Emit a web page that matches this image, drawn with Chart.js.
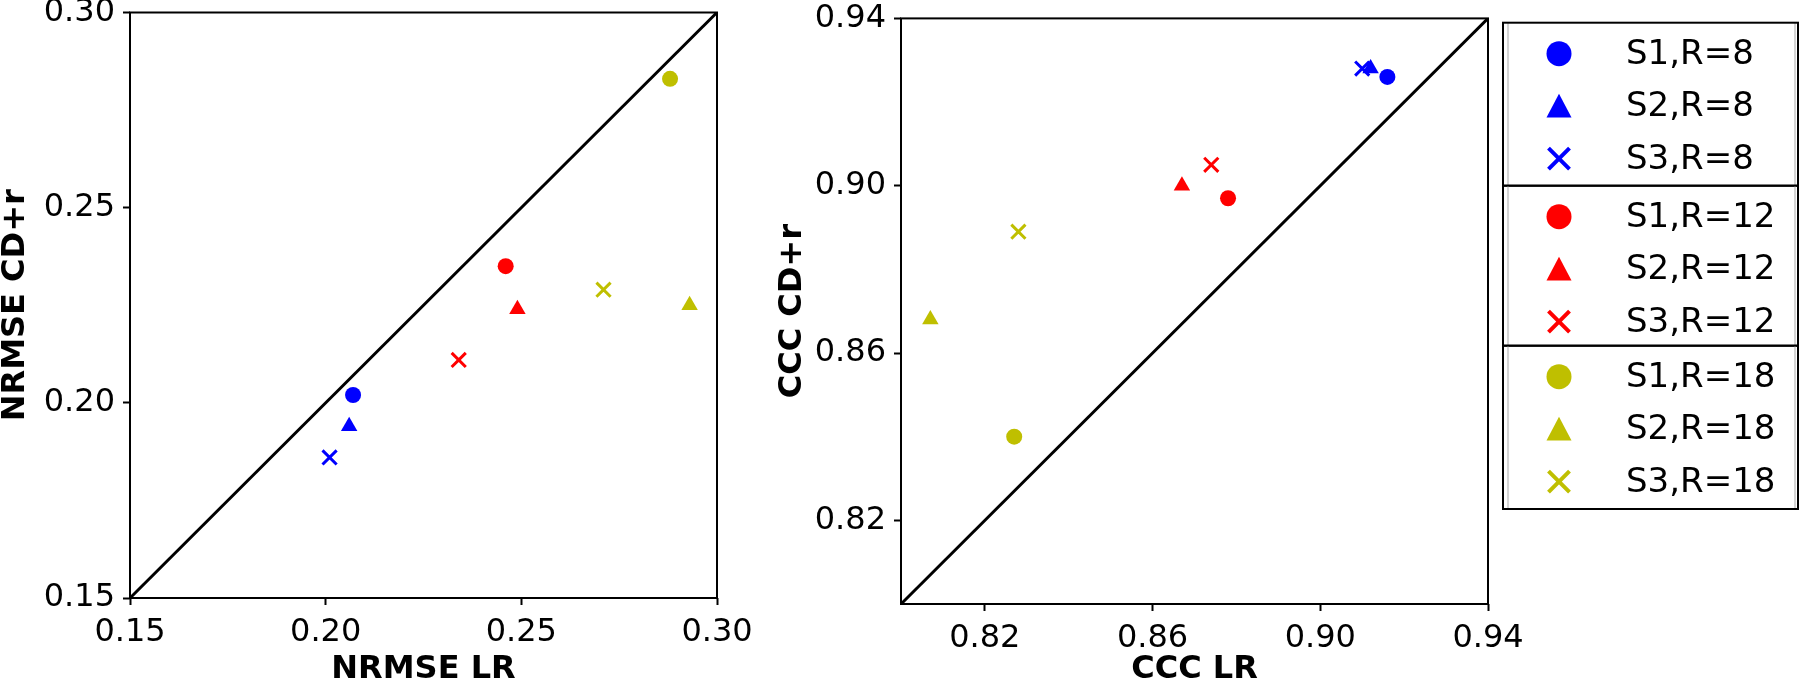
<!DOCTYPE html>
<html lang="en">
<head>
<meta charset="UTF-8">
<title>NRMSE and CCC: LR vs CD+r</title>
<script src="https://cdn.jsdelivr.net/npm/chart.js"></script>
<style>
    body {
        margin: 0;
        background: #fff;
        width: 1800px;
        height: 686px;
        overflow: hidden;
        position: relative;
    }
    canvas {
        position: absolute;
    }
    #nrmseChart { left: 0; top: -40px; }
    #cccChart { left: 760px; top: -40px; }
</style>
</head>
<body>
<canvas id="nrmseChart" width="800" height="726"></canvas>
<canvas id="cccChart" width="1040" height="726"></canvas>

<script>
// series (setting, R) in legend order
const seriesLabels = ['S1,R=8', 'S2,R=8', 'S3,R=8',
                      'S1,R=12', 'S2,R=12', 'S3,R=12',
                      'S1,R=18', 'S2,R=18', 'S3,R=18'];
const seriesColors = ['#0000ff', '#0000ff', '#0000ff',
                      '#ff0000', '#ff0000', '#ff0000',
                      '#bfbf00', '#bfbf00', '#bfbf00'];
const seriesShapes = ['circle', 'triangle', 'crossRot',
                      'circle', 'triangle', 'crossRot',
                      'circle', 'triangle', 'crossRot'];

// left panel: NRMSE
const nrmseLR = [0.207, 0.206, 0.201, 0.246, 0.249, 0.234, 0.288, 0.293, 0.271];
const nrmseCD = [0.202, 0.194, 0.186, 0.235, 0.224, 0.211, 0.283, 0.225, 0.229];
const nrmseTicks = [0.15, 0.20, 0.25, 0.30];

// right panel: CCC
const cccLR = [0.916, 0.912, 0.910, 0.878, 0.867, 0.874, 0.827, 0.807, 0.828];
const cccCD = [0.926, 0.928, 0.928, 0.897, 0.900, 0.905, 0.840, 0.868, 0.889];
const cccTicks = [0.82, 0.86, 0.90, 0.94];

const FONT = 'DejaVu Sans';

function markerSize(shape) {
    if (shape === 'circle') return 8;
    if (shape === 'triangle') return 9.5;
    return 10;
}

function buildDatasets(xs, ys, lo, hi) {
    const sets = seriesLabels.map((lab, i) => ({
        label: lab,
        data: [{ x: xs[i], y: ys[i] }],
        pointStyle: seriesShapes[i],
        pointRadius: markerSize(seriesShapes[i]),
        backgroundColor: seriesColors[i],
        borderColor: seriesColors[i],
        borderWidth: seriesShapes[i] === 'crossRot' ? 3 : 0,
        order: 0
    }));
    // y = x reference line
    sets.push({
        label: 'diag',
        data: [{ x: lo, y: lo }, { x: hi, y: hi }],
        showLine: true,
        borderColor: '#000',
        borderWidth: 3,
        pointRadius: 0,
        order: 1
    });
    return sets;
}

function axis(min, max, ticks, title, isY, size) {
    return {
        type: 'linear',
        min: min,
        max: max,
        afterBuildTicks: s => { s.ticks = ticks.map(v => ({ value: v })); },
        afterFit: s => { if (isY) s.width = size; else s.height = size; },
        grid: {
            display: true,
            drawOnChartArea: false,
            drawTicks: true,
            tickLength: 7,
            tickWidth: 2,
            tickColor: '#000'
        },
        border: { display: false },
        ticks: {
            color: '#000',
            font: { family: FONT, size: 32 },
            padding: 8,
            maxRotation: 0,
            autoSkip: false,
            callback: v => Number(v).toFixed(2)
        },
        title: {
            display: true,
            text: title,
            color: '#000',
            font: { family: FONT, size: 32, weight: 'bold', lineHeight: 1 },
            padding: 0
        }
    };
}

// box round the plot area
const framePlugin = {
    id: 'frame',
    afterDatasetsDraw(chart) {
        const a = chart.chartArea, c = chart.ctx;
        c.save();
        c.strokeStyle = '#000';
        c.lineWidth = 2;
        c.strokeRect(a.left, a.top, a.right - a.left, a.bottom - a.top);
        c.restore();
    }
};

function drawMarker(c, shape, color, r, x, y) {
    c.save();
    c.fillStyle = color;
    c.strokeStyle = color;
    c.beginPath();
    if (shape === 'circle') {
        c.arc(x, y, r, 0, Math.PI * 2);
        c.fill();
    } else if (shape === 'triangle') {
        c.moveTo(x, y - r);
        c.lineTo(x + r, y + r * 0.9);
        c.lineTo(x - r, y + r * 0.9);
        c.closePath();
        c.fill();
    } else {
        c.lineWidth = 4;
        c.moveTo(x - r, y - r); c.lineTo(x + r, y + r);
        c.moveTo(x - r, y + r); c.lineTo(x + r, y - r);
        c.stroke();
    }
    c.restore();
}

// three stacked legend boxes right of the CCC panel
const legendPlugin = {
    id: 'stackedLegend',
    afterDraw(chart) {
        const c = chart.ctx;
        const left = 743, right = 1038;
        const edges = [62.7, 225.7, 385.7, 549];
        c.save();
        for (let g = 0; g < 3; g++) {
            const top = edges[g], bottom = edges[g + 1];
            c.strokeStyle = '#d4d4d4';
            c.lineWidth = 2;
            c.beginPath();
            c.moveTo(left + 5, top); c.lineTo(left + 5, bottom);
            c.moveTo(right - 3, top); c.lineTo(right - 3, bottom);
            c.stroke();
            c.strokeStyle = '#000';
            c.lineWidth = 2;
            c.strokeRect(left, top, right - left, bottom - top);
            for (let k = 0; k < 3; k++) {
                const i = g * 3 + k;
                const y = top + 31 + k * 52.5;
                drawMarker(c, seriesShapes[i], seriesColors[i], seriesShapes[i] === 'crossRot' ? 10.5 : 12.5, 799, y);
                c.fillStyle = '#000';
                c.font = '34px "' + FONT + '"';
                c.textAlign = 'left';
                c.textBaseline = 'middle';
                c.fillText(seriesLabels[i], 866, y + 1);
            }
        }
        c.restore();
    }
};

function makeChart(id, xs, ys, lo, hi, ticks, xTitle, yTitle, pad, yWidth, xHeight, extra) {
    return new Chart(document.getElementById(id), {
        type: 'scatter',
        data: { datasets: buildDatasets(xs, ys, lo, hi) },
        options: {
            responsive: false,
            animation: false,
            events: [],
            layout: { padding: pad },
            plugins: {
                legend: { display: false },
                tooltip: { enabled: false }
            },
            scales: {
                x: axis(lo, hi, ticks, xTitle, false, xHeight),
                y: axis(lo, hi, ticks, yTitle, true, yWidth)
            }
        },
        plugins: [framePlugin].concat(extra)
    });
}

makeChart('nrmseChart', nrmseLR, nrmseCD, 0.15, 0.30, nrmseTicks,
          'NRMSE LR', 'NRMSE CD+r',
          { left: 0, top: 52.5, right: 83, bottom: 0 }, 130, 88, []);

makeChart('cccChart', cccLR, cccCD, 0.80, 0.94, cccTicks,
          'CCC LR', 'CCC CD+r',
          { left: 17, top: 58.4, right: 312, bottom: 0 }, 124, 82, [legendPlugin]);
</script>
</body>
</html>
